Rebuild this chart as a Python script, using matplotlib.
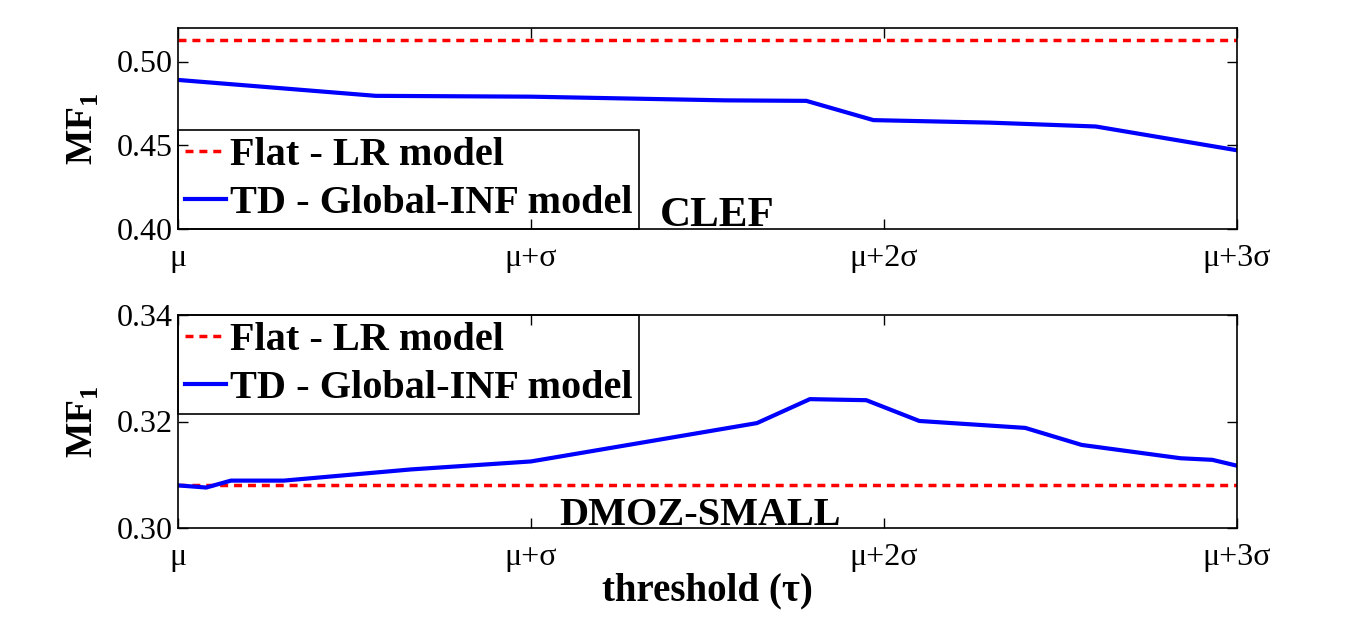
import matplotlib
matplotlib.use("Agg")
import matplotlib.pyplot as plt

plt.rcParams['font.family'] = ['Liberation Serif', 'DejaVu Serif']
plt.rcParams['mathtext.fontset'] = 'custom'
plt.rcParams['mathtext.rm'] = 'Liberation Serif'

# ---- data (x in units of sigma above mu) ----
x_ticks = [0, 1, 2, 3]
x_labels = ['μ', 'μ+σ', 'μ+2σ', 'μ+3σ']

clef_x = [0, 0.56, 1.0, 1.3, 1.55, 1.78, 1.97, 2.3, 2.6, 3.0]
clef_td = [0.489, 0.4795, 0.479, 0.4778, 0.4768, 0.4765, 0.4650, 0.4635, 0.4612, 0.447]
clef_flat = 0.513
clef_ylim = (0.40, 0.52)
clef_yticks = [0.40, 0.45, 0.50]

dmoz_x = [0, 0.08, 0.15, 0.30, 0.66, 1.0, 1.64, 1.79, 1.95, 2.10, 2.40, 2.56, 2.84, 2.93, 3.0]
dmoz_td = [0.3080, 0.3076, 0.3089, 0.3089, 0.3110, 0.3125, 0.3197, 0.3242, 0.3240,
           0.3201, 0.3188, 0.3156, 0.3131, 0.3128, 0.3117]
dmoz_flat = 0.308
dmoz_ylim = (0.30, 0.34)
dmoz_yticks = [0.30, 0.32, 0.34]

W, H = 1366, 628
fig = plt.figure(figsize=(W / 100, H / 100), dpi=100)

def make_axes(top_px, bot_px):
    return fig.add_axes([178 / W, 1 - bot_px / H, (1237 - 178) / W, (bot_px - top_px) / H])

ax1 = make_axes(28, 229)
ax2 = make_axes(315, 528)

def style(ax, ylim, yticks, yfmt):
    ax.set_xlim(0, 3)
    ax.set_ylim(*ylim)
    ax.set_xticks(x_ticks)
    ax.set_xticklabels(x_labels)
    ax.set_yticks(yticks)
    ax.set_yticklabels([yfmt % v for v in yticks])
    ax.tick_params(direction='in', length=7, width=1, top=True, right=True,
                   labelsize=23)
    ax.tick_params(axis='x', pad=11)
    ax.tick_params(axis='y', pad=4)
    for s in ax.spines.values():
        s.set_linewidth(1.2)
    ax.set_ylabel(r'MF$_{\mathregular{1}}$', fontsize=27, fontweight='bold', labelpad=11)

def draw(ax, xs, td, flat, loc):
    ax.plot([0, 3], [flat, flat], color='red', lw=2.5, dashes=(2.3, 1.7),
            label='Flat - LR model')
    ax.plot(xs, td, color='blue', lw=3.0, label='TD - Global-INF model')
    leg = ax.legend(loc=loc, borderaxespad=0, fancybox=False, framealpha=1,
                    edgecolor='black', handlelength=1.0, handletextpad=0.1,
                    borderpad=0.18, labelspacing=0.25,
                    prop={'size': 29, 'weight': 'bold'})
    leg.get_frame().set_linewidth(1.2)
    leg.set_zorder(1)

draw(ax1, clef_x, clef_td, clef_flat, 'lower left')
draw(ax2, dmoz_x, dmoz_td, dmoz_flat, 'upper left')
style(ax1, clef_ylim, clef_yticks, '%.2f')
style(ax2, dmoz_ylim, dmoz_yticks, '%.2f')

ax1.text(1.527, 0.4015, 'CLEF', fontsize=31, fontweight='bold', ha='center', va='baseline')
ax2.text(1.48, 0.3005, 'DMOZ-SMALL', fontsize=29, fontweight='bold', ha='center', va='baseline')
ax2.set_xlabel('threshold (τ)', fontsize=28, fontweight='bold', labelpad=0)

fig.savefig('out.png', dpi=100)
